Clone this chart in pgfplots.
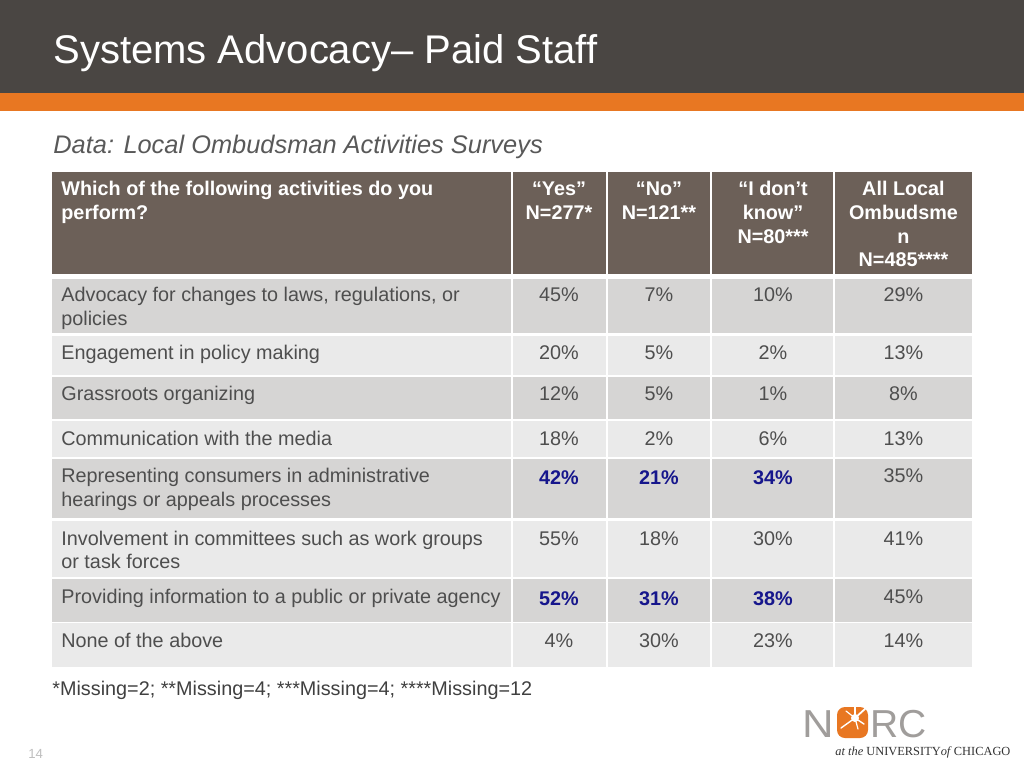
\documentclass[border=0pt]{standalone}
\usepackage{pgfplots}
\pgfplotsset{compat=1.18}
\usepackage{fontspec}
\setmainfont{Liberation Sans}
\newfontfamily\logoserif{Liberation Serif}
\definecolor{topbar}{HTML}{4A4643}
\definecolor{orangebar}{HTML}{E87722}
\definecolor{hdr}{HTML}{6C6058}
\definecolor{rowdark}{HTML}{D6D5D4}
\definecolor{rowlight}{HTML}{EAEAEA}
\definecolor{txt}{HTML}{4E4E4E}
\definecolor{subt}{HTML}{595959}
\definecolor{blu}{HTML}{16168C}
\definecolor{logogray}{HTML}{A09D9B}
\newcommand{\bodyfont}{\fontsize{9.9}{11.75}\selectfont}
\begin{document}
\begin{tikzpicture}
\begin{axis}[
  width=512pt, height=384pt, scale only axis,
  xmin=0, xmax=1024, ymin=0, ymax=768, y dir=reverse,
  hide axis, clip=false,
  /pgf/number format/assume math mode=true,
  every node near coord/.append style={anchor=base, inner sep=0pt, font=\bodyfont, text=txt},
]
% background
\fill[white] (0,0) rectangle (1024,768);
\fill[topbar] (0,0) rectangle (1024,93);
\fill[orangebar] (0,93) rectangle (1024,110.5);
\node[anchor=base west, inner sep=0pt, text=white, font=\fontsize{20}{24}\selectfont] at (53,63) {Systems Advocacy– Paid Staff};
\node[anchor=base west, inner sep=0pt, text=subt, font=\fontsize{12.7}{15}\selectfont\itshape] at (53,153) {Data: Local Ombudsman Activities Surveys};

% header
\fill[hdr] (51.7,172) rectangle (971.7,274);
% rows
\fill[rowdark]  (51.7,279)   rectangle (971.7,333);
\fill[rowlight] (51.7,336)   rectangle (971.7,375);
\fill[rowdark]  (51.7,377)   rectangle (971.7,419);
\fill[rowlight] (51.7,421)   rectangle (971.7,457);
\fill[rowdark]  (51.7,458.5) rectangle (971.7,518);
\fill[rowlight] (51.7,520.5) rectangle (971.7,577);
\fill[rowdark]  (51.7,579)   rectangle (971.7,621.7);
\fill[rowlight] (51.7,623.3) rectangle (971.7,666.7);
% column separators
\draw[white, line width=1pt] (511.7,170) -- (511.7,668);
\draw[white, line width=1pt] (606.7,170) -- (606.7,668);
\draw[white, line width=1pt] (711,170) -- (711,668);
\draw[white, line width=1pt] (834.3,170) -- (834.3,668);

% header text
\begin{scope}[every node/.style={inner sep=0pt, text=white, font=\bodyfont\bfseries}]
\node[anchor=base west] at (61,195) {Which of the following activities do you};
\node[anchor=base west] at (61,219.3) {perform?};
\node[anchor=base] at (559,195) {“Yes”};
\node[anchor=base] at (559,219.3) {N=277*};
\node[anchor=base] at (659,195) {“No”};
\node[anchor=base] at (659,219.3) {N=121**};
\node[anchor=base] at (773,195) {“I don’t};
\node[anchor=base] at (773,219.3) {know”};
\node[anchor=base] at (773,243) {N=80***};
\node[anchor=base] at (903.5,195) {All Local};
\node[anchor=base] at (903.5,219.3) {Ombudsme};
\node[anchor=base] at (903.5,243) {n};
\node[anchor=base] at (903.5,266.7) {N=485****};
\end{scope}

% row labels
\begin{scope}[every node/.style={inner sep=0pt, text=txt, font=\bodyfont, anchor=base west}]
\node at (61,301.7) {Advocacy for changes to laws, regulations, or};
\node at (61,325) {policies};
\node at (61,359.3) {Engagement in policy making};
\node at (61,400) {Grassroots organizing};
\node at (61,445) {Communication with the media};
\node at (61,482.3) {Representing consumers in administrative};
\node at (61,506) {hearings or appeals processes};
\node at (61,545.7) {Involvement in committees such as work groups};
\node at (61,568.5) {or task forces};
\node at (61,603.3) {Providing information to a public or private agency};
\node at (61,647.3) {None of the above};
\end{scope}

% values (gray)
\addplot[only marks, mark=*, mark size=0pt, mark options={draw=none, fill=none},
  point meta=explicit,
  nodes near coords={\pgfmathprintnumber{\pgfplotspointmeta}\%}]
  table[meta=v] {
x     y      v
559   301.7  45
659   301.7  7
773   301.7  10
903.5 301.7  29
559   359.3  20
659   359.3  5
773   359.3  2
903.5 359.3  13
559   400    12
659   400    5
773   400    1
903.5 400    8
559   445    18
659   445    2
773   445    6
903.5 445    13
903.5 482.3  35
559   545.7  55
659   545.7  18
773   545.7  30
903.5 545.7  41
903.5 603.3  45
559   647.3  4
659   647.3  30
773   647.3  23
903.5 647.3  14
};
% values (bold blue)
\addplot[only marks, mark=*, mark size=0pt, mark options={draw=none, fill=none},
  point meta=explicit,
  nodes near coords={\pgfmathprintnumber{\pgfplotspointmeta}\%},
  every node near coord/.append style={font=\bodyfont\bfseries, text=blu}]
  table[meta=v] {
x     y      v
559   484    42
659   484    21
773   484    34
559   605    52
659   605    31
773   605    38
};

% footnote and page number
\node[anchor=base west, inner sep=0pt, text=black!75, font=\fontsize{9.9}{11.75}\selectfont] at (52,695.5) {*Missing=2; **Missing=4; ***Missing=4; ****Missing=12};
\node[anchor=base west, inner sep=0pt, text=black!25, font=\fontsize{6.6}{8}\selectfont] at (28,758.3) {14};

% logo
\node[anchor=base west, inner sep=0pt, text=logogray, font=\fontsize{19.5}{22}\selectfont, xscale=1.12] at (802,737) {N};
\fill[orangebar, rounded corners=4pt] (837,707) rectangle (868,738);
\begin{scope}[white, line cap=round]
\draw[line width=0.9pt] (855,718) -- (866,708);
\draw[line width=0.7pt] (855,718) -- (841,728);
\draw[line width=0.7pt] (855,718) -- (855,706);
\draw[line width=0.7pt] (855,718) -- (864,724);
\draw[line width=0.6pt] (855,718) -- (846,711);
\draw[line width=0.6pt] (855,718) -- (858,729);
\fill (855,718) circle (2pt);
\end{scope}
\node[anchor=base west, inner sep=0pt, text=logogray, font=\fontsize{19.5}{22}\selectfont] at (870,737) {RC};
\node[anchor=base west, inner sep=0pt, text=black!80, font=\logoserif\fontsize{6.2}{7}\selectfont] at (835,755.7) {\textit{at the} UNIVERSITY\textit{of}\,CHICAGO};
\end{axis}
\end{tikzpicture}
\end{document}
